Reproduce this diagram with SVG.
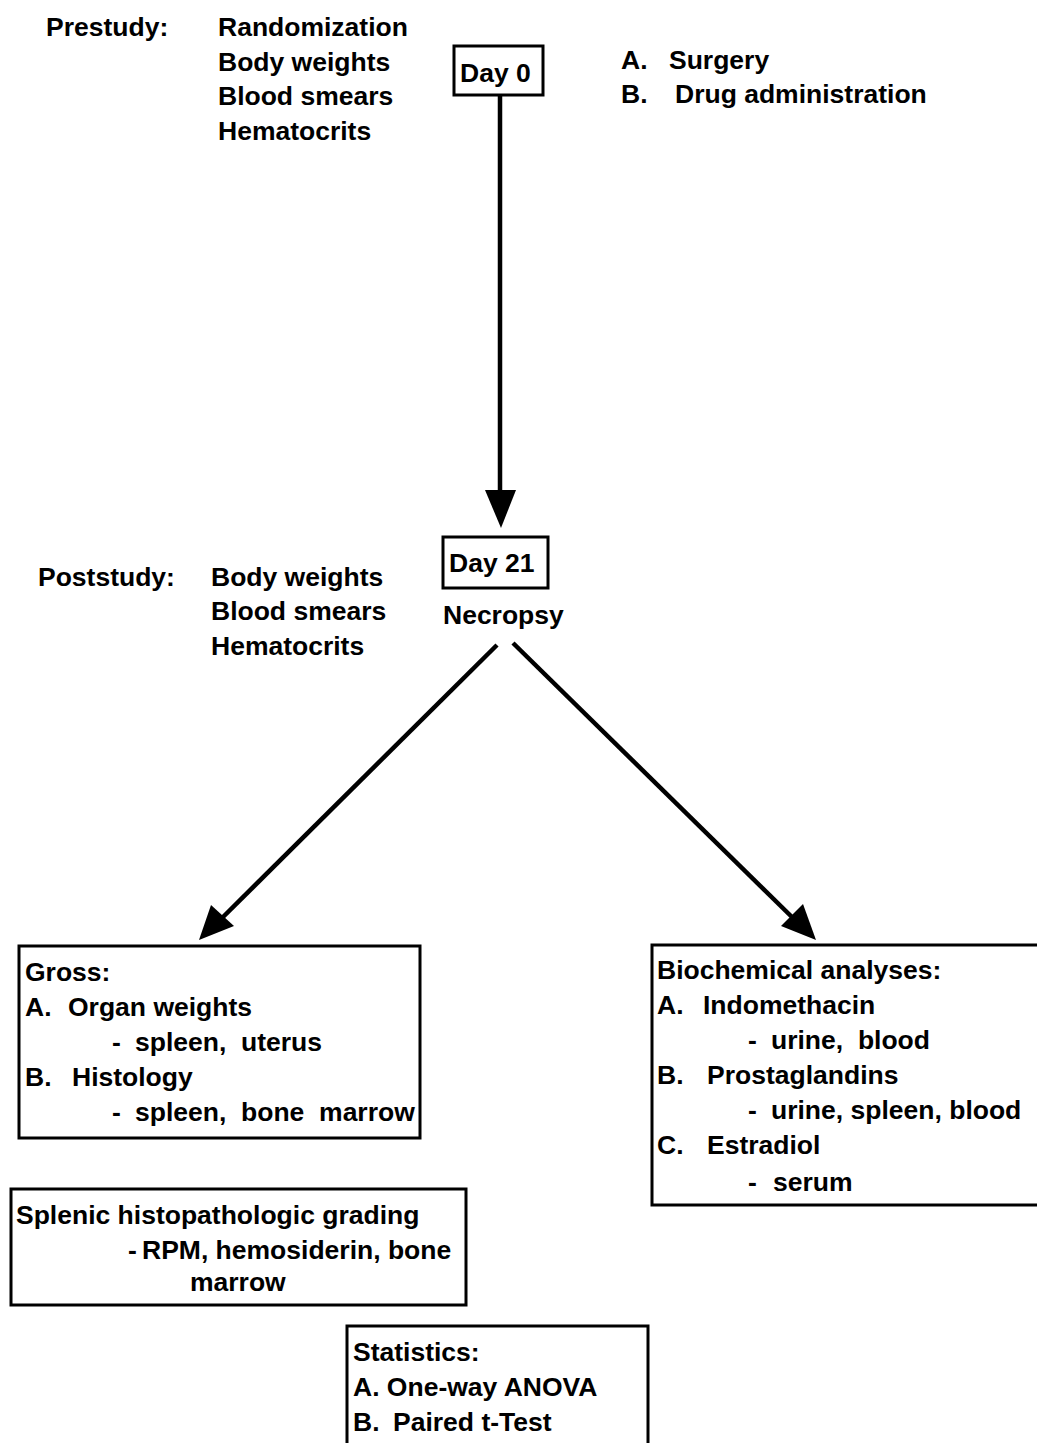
<svg xmlns="http://www.w3.org/2000/svg" width="1037" height="1443" viewBox="0 0 1037 1443">
<style>
text{font-family:"Liberation Sans",Arial,sans-serif;font-size:26.5px;font-weight:bold;fill:#000;white-space:pre}
.box{fill:none;stroke:#000;stroke-width:3}
.conn{stroke:#000;stroke-width:4.5;fill:none}
.head{fill:#000}
</style>
<rect width="1037" height="1443" fill="#fff"/>
<g id="prestudy">
<text x="46" y="36">Prestudy:</text>
<text x="218" y="36">Randomization</text>
<text x="218" y="71">Body weights</text>
<text x="218" y="105">Blood smears</text>
<text x="218" y="140">Hematocrits</text>
</g>
<g id="day0">
<rect class="box" x="454" y="46" width="89" height="49"/>
<text x="460" y="82">Day 0</text>
</g>
<g id="day0-actions">
<text x="621" y="69">A.</text><text x="669" y="69">Surgery</text>
<text x="621" y="103">B.</text><text x="675" y="103">Drug administration</text>
</g>
<g id="day21">
<rect class="box" x="443" y="537" width="105" height="51"/>
<text x="449" y="572">Day 21</text>
<text x="443" y="624">Necropsy</text>
</g>
<g id="poststudy">
<text x="38" y="586">Poststudy:</text>
<text x="211" y="586">Body weights</text>
<text x="211" y="620">Blood smears</text>
<text x="211" y="655">Hematocrits</text>
</g>
<g id="connectors">
<line class="conn" x1="500" y1="95" x2="500" y2="495"/>
<polygon class="head" points="485,490 516,490 501,528"/>
<line class="conn" x1="497" y1="645" x2="220" y2="920"/>
<polygon class="head" points="199,940 211,905 234,926"/>
<line class="conn" x1="513" y1="643" x2="795" y2="920"/>
<polygon class="head" points="816,940 781,926 803,904"/>
</g>
<g id="gross">
<rect class="box" x="19" y="946" width="401" height="192"/>
<text x="25" y="981">Gross:</text>
<text x="25" y="1016">A.</text><text x="68" y="1016">Organ weights</text>
<text x="112" y="1051">-</text><text x="135" y="1051">spleen,  uterus</text>
<text x="25" y="1086">B.</text><text x="72" y="1086">Histology</text>
<text x="112" y="1121">-</text><text x="135" y="1121">spleen,  bone  marrow</text>
</g>
<g id="biochemical">
<rect class="box" x="652" y="945" width="400" height="260"/>
<text x="657" y="979">Biochemical analyses:</text>
<text x="657" y="1014">A.</text><text x="703" y="1014">Indomethacin</text>
<text x="748" y="1049">-</text><text x="771" y="1049">urine,  blood</text>
<text x="657" y="1084">B.</text><text x="707" y="1084">Prostaglandins</text>
<text x="748" y="1119">-</text><text x="771" y="1119">urine, spleen, blood</text>
<text x="657" y="1154">C.</text><text x="707" y="1154">Estradiol</text>
<text x="748" y="1191">-</text><text x="773" y="1191">serum</text>
</g>
<g id="splenic">
<rect class="box" x="11" y="1189" width="455" height="116"/>
<text x="16" y="1224">Splenic histopathologic grading</text>
<text x="128" y="1259">-</text><text x="142" y="1259">RPM, hemosiderin, bone</text>
<text x="190" y="1291">marrow</text>
</g>
<g id="statistics">
<rect class="box" x="347" y="1326" width="301" height="130"/>
<text x="353" y="1361">Statistics:</text>
<text x="353" y="1396">A. One-way ANOVA</text>
<text x="353" y="1431">B.</text><text x="393" y="1431">Paired t-Test</text>
</g>
</svg>
